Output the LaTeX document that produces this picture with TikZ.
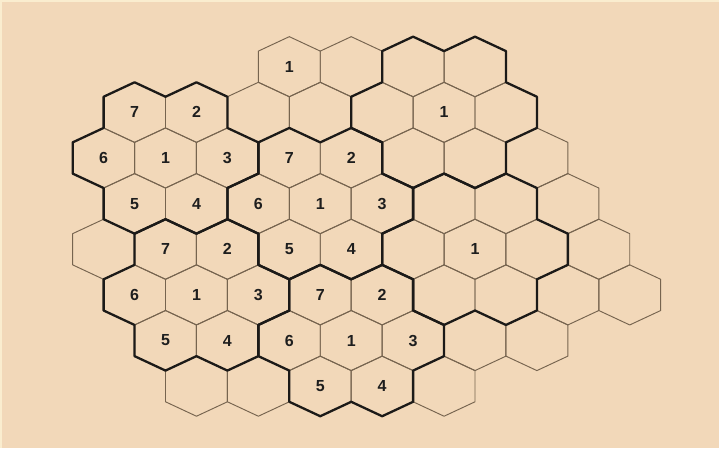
\documentclass[tikz,border=0pt]{standalone}
\usepackage{fontspec}
\setmainfont{Liberation Sans}
\definecolor{bg}{HTML}{F2D8B9}
\definecolor{paleedge}{HTML}{FAEDCF}
\definecolor{thinline}{HTML}{76644F}
\definecolor{thickline}{HTML}{1C1A18}
\definecolor{numcol}{HTML}{1E1E1E}
\begin{document}
\begin{tikzpicture}[x=1pt,y=-1pt,
  hexthin/.style={draw=thinline, line width=0.95pt, line join=round},
  flower/.style={draw=thickline, line width=2.3pt, line join=round},
  num/.style={font=\bfseries\fontsize{16}{16}\selectfont, text=numcol, inner sep=0pt}]
\fill[bg] (0,0) rectangle (719,448);
\fill[paleedge] (0,0) rectangle (719,2);
\fill[paleedge] (0,0) rectangle (2,448);
\path[use as bounding box] (0,0) rectangle (719,448);
% thin cells
\foreach \k/\r in {6/0,8/0,10/0,12/0,
  1/1,3/1,5/1,7/1,9/1,11/1,13/1,
  0/2,2/2,4/2,6/2,8/2,10/2,12/2,14/2,
  1/3,3/3,5/3,7/3,9/3,11/3,13/3,15/3,
  0/4,2/4,4/4,6/4,8/4,10/4,12/4,14/4,16/4,
  1/5,3/5,5/5,7/5,9/5,11/5,13/5,15/5,17/5,
  2/6,4/6,6/6,8/6,10/6,12/6,14/6,
  3/7,5/7,7/7,9/7,11/7}{
  \pgfmathsetmacro\cx{103.6+30.95*\k}
  \pgfmathsetmacro\cy{66.7+45.64*\r}
  \draw[hexthin,shift={(\cx,\cy)}] (-30.95,-15.6) -- (0,-30.04) -- (30.95,-15.6)
    -- (30.95,15.6) -- (0,30.04) -- (-30.95,15.6) -- cycle;
}
% thick outlines of the full flowers
\foreach \k/\r in {2/2,7/3,3/5,8/6,11/1,12/4}{
  \pgfmathsetmacro\cx{103.6+30.95*\k}
  \pgfmathsetmacro\cy{66.7+45.64*\r}
  \draw[flower,shift={(\cx,\cy)}] (0,-61.24) -- (30.95,-75.68) -- (61.9,-61.24)
    -- (61.9,-30.04) -- (92.85,-15.6) -- (92.85,15.6) -- (61.9,30.04)
    -- (61.9,61.24) -- (30.95,75.68) -- (0,61.24) -- (-30.95,75.68)
    -- (-61.9,61.24) -- (-61.9,30.04) -- (-92.85,15.6) -- (-92.85,-15.6)
    -- (-61.9,-30.04) -- (-61.9,-61.24) -- (-30.95,-75.68) -- cycle;
}
% numbers
\foreach \k/\r/\t in {6/0/1,
  1/1/7,3/1/2,11/1/1,
  0/2/6,2/2/1,4/2/3,6/2/7,8/2/2,
  1/3/5,3/3/4,5/3/6,7/3/1,9/3/3,
  2/4/7,4/4/2,6/4/5,8/4/4,12/4/1,
  1/5/6,3/5/1,5/5/3,7/5/7,9/5/2,
  2/6/5,4/6/4,6/6/6,8/6/1,10/6/3,
  7/7/5,9/7/4}{
  \node[num] (n\k-\r) at ({103.6+30.95*\k},{66.7+45.64*\r}) {\t};
}
\end{tikzpicture}
\end{document}
